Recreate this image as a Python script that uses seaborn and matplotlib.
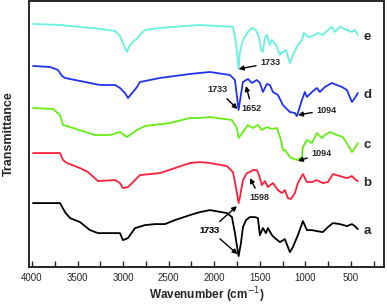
import matplotlib
matplotlib.use("Agg")
import numpy as np
import pandas as pd
import matplotlib.pyplot as plt
import seaborn as sns

# FTIR spectra, wavenumber (cm-1) vs transmittance (arbitrary units, curves offset)
wn_a = [3990, 3693, 3638, 3583, 3473, 3364, 3276, 3035, 3002, 2947, 2870, 2760, 2651, 2541, 2431,
        2267, 2157, 2047, 1861, 1806, 1773, 1733, 1707, 1685, 1652, 1609, 1554, 1521, 1499, 1466,
        1433, 1411, 1367, 1334, 1279, 1225, 1170, 1137, 1082, 1027, 983, 928, 874, 808, 753, 698,
        621, 544, 489, 457, 424]
tr_a = [64, 64, 55, 49, 45, 37, 34, 34, 27, 29, 39, 42, 43, 43, 47,
        52, 55, 57, 54, 50, 34, 11, 24, 40, 47, 50, 50, 49, 32, 39,
        34, 39, 32, 29, 25, 28, 15, 20, 32, 46, 37, 37, 36, 35, 40, 44,
        43, 41, 43, 41, 38]

wn_b = [3990, 3693, 3660, 3616, 3473, 3386, 3276, 3089, 3035, 3002, 2947, 2870, 2815, 2596, 2431,
        2267, 2157, 2047, 1861, 1795, 1762, 1733, 1718, 1685, 1641, 1609, 1576, 1532, 1510, 1477,
        1444, 1411, 1356, 1301, 1258, 1225, 1192, 1159, 1115, 1082, 1027, 983, 928, 874, 808, 753,
        698, 621, 544, 489, 457, 424]
tr_b = [114, 114, 107, 104, 99, 95, 86, 87, 84, 79, 80, 87, 92, 94, 99,
        104, 105, 104, 101, 95, 80, 64, 70, 87, 94, 95, 97, 97, 92, 82,
        86, 80, 84, 77, 74, 77, 69, 68, 74, 84, 93, 85, 85, 87, 84, 85,
        93, 91, 89, 91, 88, 86]

wn_c = [3990, 3770, 3693, 3660, 3583, 3309, 3144, 3035, 2958, 2848, 2760, 2486, 2267, 2157, 2047,
        1806, 1751, 1733, 1685, 1630, 1576, 1521, 1477, 1422, 1367, 1312, 1268, 1247, 1225, 1170,
        1094, 1038, 1027, 983, 928, 874, 819, 786, 731, 654, 588, 533, 489, 457, 424]
tr_c = [159, 158, 152, 142, 140, 132, 132, 135, 130, 137, 141, 144, 149, 149, 150,
        147, 139, 129, 135, 142, 139, 142, 137, 140, 138, 139, 127, 117, 117, 110,
        107, 110, 120, 127, 124, 134, 129, 132, 135, 132, 130, 122, 115, 119, 124]

wn_d = [3990, 3803, 3715, 3671, 3638, 3364, 3254, 3089, 3035, 2980, 2947, 2892, 2848, 2815, 2596,
        2267, 2157, 2047, 1828, 1773, 1733, 1696, 1685, 1630, 1587, 1532, 1499, 1466, 1422, 1389,
        1356, 1301, 1247, 1170, 1115, 1094, 1082, 1038, 1005, 983, 928, 874, 841, 786, 709, 654,
        599, 544, 489, 457, 424]
tr_d = [201, 200, 197, 191, 189, 184, 182, 182, 179, 174, 169, 175, 180, 185, 189,
        193, 194, 195, 192, 187, 157, 179, 185, 188, 184, 187, 184, 175, 183, 182,
        175, 172, 162, 155, 154, 151, 154, 167, 175, 170, 175, 179, 175, 180, 184, 182,
        180, 177, 165, 169, 174]

wn_e = [3990, 3693, 3254, 3089, 3035, 2980, 2958, 2925, 2870, 2848, 2837, 2760, 2596, 2157, 1795,
        1762, 1733, 1718, 1685, 1630, 1587, 1543, 1510, 1488, 1466, 1444, 1422, 1389, 1367, 1323,
        1279, 1247, 1214, 1170, 1137, 1082, 1038, 1016, 972, 917, 863, 808, 753, 709, 676, 621,
        544, 489, 457, 424]
tr_e = [243, 242, 238, 236, 231, 219, 215, 222, 227, 228, 230, 237, 239, 242, 240,
        225, 198, 215, 227, 235, 239, 237, 230, 217, 215, 229, 232, 222, 227, 222,
        212, 215, 217, 204, 212, 222, 227, 234, 230, 231, 234, 232, 237, 240, 235, 240,
        237, 235, 237, 232]

series = [("a", wn_a, tr_a, "black"),
          ("b", wn_b, tr_b, "#ff1f3d"),
          ("c", wn_c, tr_c, "#66ee14"),
          ("d", wn_d, tr_d, "#2233ee"),
          ("e", wn_e, tr_e, "#66f2dc")]

sns.set_style("ticks")
plt.rcParams["font.family"] = ["Liberation Sans", "DejaVu Sans"]

fig = plt.figure(figsize=(3.87, 3.06), dpi=100)
ax = fig.add_axes([0.075, 0.127, 0.917, 0.870])

for name, wn, tr, col in series:
    df = pd.DataFrame({"wn": wn, "tr": tr})
    sns.lineplot(data=df, x="wn", y="tr", color=col, lw=1.3, ax=ax, estimator=None, sort=False)
    ax.text(365, tr[-1] - 2, name, fontsize=9.5, fontweight="bold", va="center", ha="left")

ax.set_xlim(4033, 138)
ax.set_ylim(0, 266)
ax.set_xticks([4000, 3500, 3000, 2500, 2000, 1500, 1000, 500])
ax.set_xticks(np.arange(3750, 0, -500), minor=True)
ax.set_yticks([])
ax.tick_params(axis="x", which="both", direction="in", length=4, width=1, labelsize=7, pad=4)
for sp in ax.spines.values():
    sp.set_linewidth(1.4)
ax.set_xlabel("Wavenumber (cm$^{-1}$)", fontsize=8.5, fontweight="bold", labelpad=2)
ax.set_ylabel("Transmittance", fontsize=9, fontweight="bold", labelpad=10)

arrow = dict(arrowstyle="-|>", color="black", lw=1, mutation_scale=7, shrinkA=1, shrinkB=0)
note = dict(fontsize=6.5, fontweight="bold", ha="center", va="center")
ax.annotate("1733", xy=(1733, 198), xytext=(1380, 204), arrowprops=arrow, **note)
ax.annotate("1733", xy=(1745, 158), xytext=(1960, 177), arrowprops=arrow, **note)
ax.annotate("1652", xy=(1652, 181), xytext=(1587, 159), arrowprops=arrow, **note)
ax.annotate("1094", xy=(1082, 152), xytext=(764, 157), arrowprops=arrow, **note)
ax.annotate("1094", xy=(1082, 106), xytext=(819, 114), arrowprops=arrow, **note)
ax.annotate("1598", xy=(1609, 89), xytext=(1499, 70), arrowprops=arrow, **note)
ax.annotate("1733", xy=(1751, 61), xytext=(2047, 37), arrowprops=arrow, **note)
ax.annotate("1733", xy=(1745, 13), xytext=(2047, 37), arrowprops=arrow, **note)

fig.savefig("out.png", dpi=100)
